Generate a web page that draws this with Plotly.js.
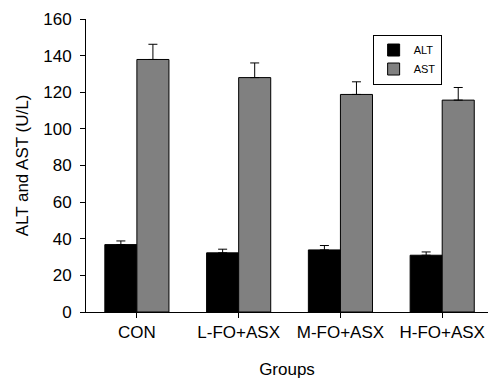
<!DOCTYPE html>
<html><head><meta charset="utf-8">
<script src="https://cdn.plot.ly/plotly-3.0.1.min.js"></script>
<style>html,body{margin:0;padding:0;background:#fff;}#chart{width:488px;height:379px;}</style>
</head><body><div id="chart"></div>
<script>
var groups = ["CON", "L-FO+ASX", "M-FO+ASX", "H-FO+ASX"];
var altValues = [36.8, 32.3, 33.9, 31.0];
var altErrors = [2.0, 2.0, 2.4, 1.8];
var astValues = [137.9, 128.0, 118.8, 115.7];
var astErrors = [8.3, 8.0, 6.9, 6.9];
var yTicks = [0, 20, 40, 60, 80, 100, 120, 140, 160];

var font = "Liberation Sans, Arial, sans-serif";
function trace(name, vals, errs, color) {
  return {
    type: "bar", name: name, x: groups, y: vals,
    marker: {color: color, line: {color: "#000", width: 1}},
    error_y: {type: "data", array: errs, symmetric: false,
      arrayminus: errs.map(function(){return 0;}),
      color: "#000", thickness: 1, width: 4.5}
  };
}
var data = [trace("ALT", altValues, altErrors, "#000000"),
            trace("AST", astValues, astErrors, "#808080")];
var layout = {
  width: 488, height: 379,
  margin: {l: 86, r: 0, t: 19, b: 67, pad: 0},
  paper_bgcolor: "#fff", plot_bgcolor: "#fff",
  barmode: "group", bargap: 0.37, bargroupgap: 0,
  font: {family: font, color: "#000", size: 17},
  xaxis: {range: [-0.5, 3.45], showline: true, linecolor: "#000", linewidth: 1,
    ticks: "outside", ticklen: 5, tickcolor: "#000", showgrid: false, zeroline: false,
    tickfont: {size: 17}, fixedrange: true,
    title: {text: "Groups", font: {size: 17}, standoff: 22}},
  yaxis: {range: [0, 160], tickvals: yTicks, showline: true, linecolor: "#000", linewidth: 1,
    ticks: "outside", ticklen: 5, tickcolor: "#000", showgrid: false, zeroline: false,
    tickfont: {size: 17}, ticklabelstandoff: 5,
    title: {text: "ALT and AST (U/L)", font: {size: 17}, standoff: 10}},
  showlegend: true,
  legend: {x: 0.713, y: 0.947, xanchor: "left", yanchor: "top",
    bordercolor: "#000", borderwidth: 1, bgcolor: "#fff",
    font: {size: 11}, tracegroupgap: 0, traceorder: "normal"}
};
Plotly.newPlot("chart", data, layout, {displayModeBar: false, staticPlot: true});
</script></body></html>
